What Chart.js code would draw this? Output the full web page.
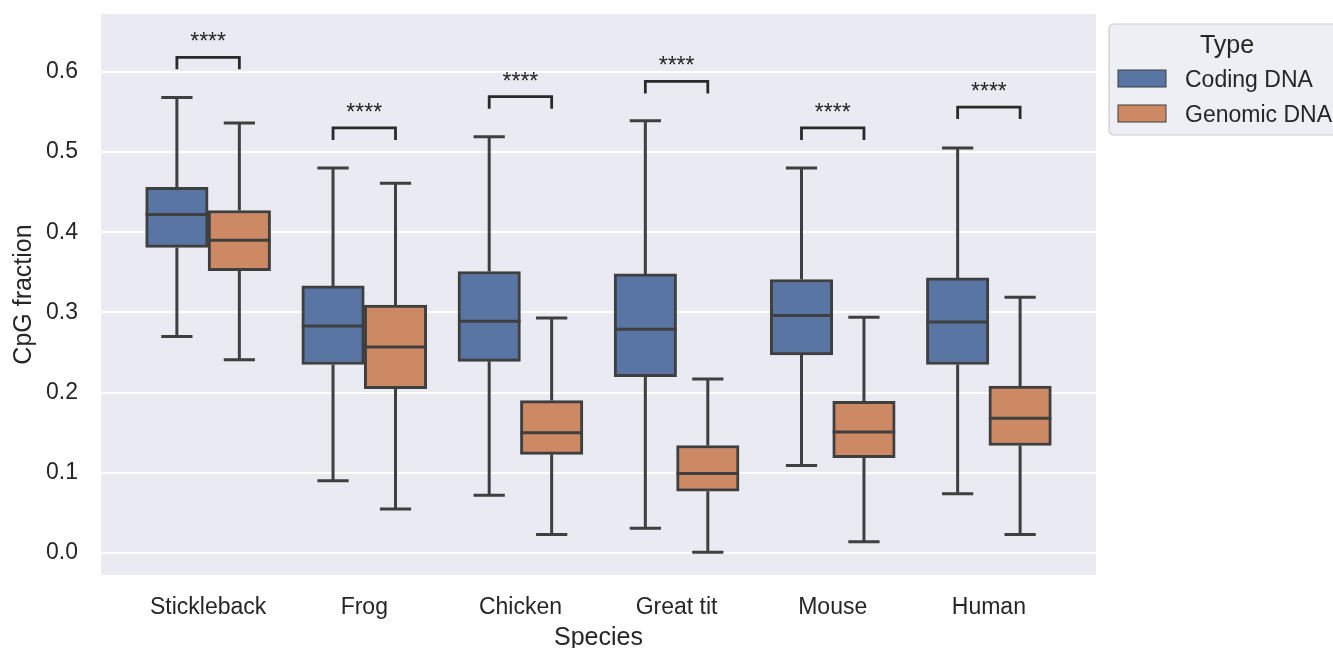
<!DOCTYPE html>
<html>
<head>
<meta charset="utf-8">
<title>CpG fraction by species</title>
<script src="https://cdn.jsdelivr.net/npm/chart.js@4.4.1/dist/chart.umd.min.js"></script>
<style>
    html, body { margin: 0; padding: 0; background: #ffffff; }
    #wrap { width: 1333px; height: 648px; }
</style>
</head>
<body>
<div id="wrap"><canvas id="cpgChart" width="1333" height="648"></canvas></div>
<script>
"use strict";

var species = ["Stickleback", "Frog", "Chicken", "Great tit", "Mouse", "Human"];
var seriesNames = ["Coding DNA", "Genomic DNA"];

// Coding DNA box stats
var codingMin = [0.270, 0.090, 0.072, 0.031, 0.109, 0.074];
var codingQ1 = [0.381, 0.235, 0.239, 0.220, 0.247, 0.235];
var codingMedian = [0.422, 0.283, 0.289, 0.279, 0.296, 0.288];
var codingQ3 = [0.456, 0.333, 0.351, 0.348, 0.341, 0.343];
var codingMax = [0.568, 0.480, 0.519, 0.539, 0.480, 0.505];

// Genomic DNA box stats
var genomicMin = [0.241, 0.055, 0.023, 0.001, 0.014, 0.023];
var genomicQ1 = [0.352, 0.205, 0.123, 0.077, 0.119, 0.134];
var genomicMedian = [0.390, 0.257, 0.150, 0.099, 0.151, 0.168];
var genomicQ3 = [0.427, 0.309, 0.190, 0.134, 0.189, 0.208];
var genomicMax = [0.536, 0.461, 0.293, 0.217, 0.294, 0.319];

// significance brackets
var sigLabels = ["****", "****", "****", "****", "****", "****"];
var bracketTop = [0.618, 0.530, 0.569, 0.588, 0.530, 0.556];
var bracketLeg = 0.015;

var yTicks = [0.0, 0.1, 0.2, 0.3, 0.4, 0.5, 0.6];

var fontFamily = "'Liberation Sans', Arial, sans-serif";
var textColor = "#262626";
var lineColor = "#3f3f3f";
var colors = ["#5875a4", "#cc8963"];
var groupOffset = 0.2;

var stats = [
    { min: codingMin, q1: codingQ1, med: codingMedian, q3: codingQ3, max: codingMax },
    { min: genomicMin, q1: genomicQ1, med: genomicMedian, q3: genomicQ3, max: genomicMax }
];

function boxData(s, shift) {
    var arr = [];
    for (var i = 0; i < species.length; i++) {
        arr.push({ x: i + shift, y: [s.q1[i], s.q3[i]] });
    }
    return arr;
}

/*background of the plot area*/
var plotBackground = {
    id: "plotBackground",
    beforeDraw: function (chart) {
        var a = chart.chartArea;
        var ctx = chart.ctx;
        ctx.save();
        ctx.fillStyle = "#eaeaf2";
        ctx.fillRect(a.left, a.top, a.right - a.left, a.bottom - a.top);
        ctx.restore();
    }
};

/*whiskers, caps and medians*/
var boxExtras = {
    id: "boxExtras",
    afterDatasetsDraw: function (chart) {
        var ctx = chart.ctx;
        var y = chart.scales.y;
        ctx.save();
        ctx.strokeStyle = lineColor;
        ctx.lineWidth = 3;
        ctx.lineCap = "butt";
        for (var d = 0; d < stats.length; d++) {
            var meta = chart.getDatasetMeta(d);
            var s = stats[d];
            for (var i = 0; i < meta.data.length; i++) {
                var el = meta.data[i];
                var cx = el.x;
                var w = el.width;
                var pMin = y.getPixelForValue(s.min[i]);
                var pQ1 = y.getPixelForValue(s.q1[i]);
                var pMed = y.getPixelForValue(s.med[i]);
                var pQ3 = y.getPixelForValue(s.q3[i]);
                var pMax = y.getPixelForValue(s.max[i]);
                ctx.beginPath();
                ctx.moveTo(cx, pQ3);
                ctx.lineTo(cx, pMax);
                ctx.moveTo(cx, pQ1);
                ctx.lineTo(cx, pMin);
                ctx.moveTo(cx - w / 4, pMax);
                ctx.lineTo(cx + w / 4, pMax);
                ctx.moveTo(cx - w / 4, pMin);
                ctx.lineTo(cx + w / 4, pMin);
                ctx.moveTo(cx - w / 2, pMed);
                ctx.lineTo(cx + w / 2, pMed);
                ctx.stroke();
            }
        }
        ctx.restore();
    }
};

/*significance brackets*/
var sigBrackets = {
    id: "sigBrackets",
    afterDatasetsDraw: function (chart) {
        var ctx = chart.ctx;
        var x = chart.scales.x;
        var y = chart.scales.y;
        ctx.save();
        ctx.strokeStyle = "#2a2a2a";
        ctx.lineWidth = 2.8;
        ctx.fillStyle = textColor;
        ctx.font = "23px " + fontFamily;
        ctx.textAlign = "center";
        ctx.textBaseline = "alphabetic";
        for (var i = 0; i < species.length; i++) {
            var x1 = x.getPixelForValue(i - groupOffset);
            var x2 = x.getPixelForValue(i + groupOffset);
            var top = y.getPixelForValue(bracketTop[i]);
            var foot = y.getPixelForValue(bracketTop[i] - bracketLeg);
            ctx.beginPath();
            ctx.moveTo(x1, foot);
            ctx.lineTo(x1, top);
            ctx.lineTo(x2, top);
            ctx.lineTo(x2, foot);
            ctx.stroke();
            ctx.fillText(sigLabels[i], (x1 + x2) / 2, top - 8);
        }
        ctx.restore();
    }
};

/*legend box outside the axes*/
var typeLegend = {
    id: "typeLegend",
    afterDraw: function (chart) {
        var ctx = chart.ctx;
        var left = chart.chartArea.right + 13;
        var top = 24;
        ctx.save();
        ctx.beginPath();
        ctx.roundRect(left, top, 260, 111, 5);
        ctx.fillStyle = "rgba(234, 234, 242, 0.8)";
        ctx.fill();
        ctx.strokeStyle = "#cccccc";
        ctx.lineWidth = 1.2;
        ctx.stroke();

        ctx.fillStyle = textColor;
        ctx.textBaseline = "alphabetic";
        ctx.textAlign = "center";
        ctx.font = "25px " + fontFamily;
        ctx.fillText("Type", left + 118, top + 29);

        ctx.textAlign = "left";
        ctx.font = "23px " + fontFamily;
        for (var i = 0; i < seriesNames.length; i++) {
            var py = top + 46 + i * 35;
            ctx.fillStyle = colors[i];
            ctx.fillRect(left + 9, py, 48, 17);
            ctx.strokeStyle = lineColor;
            ctx.lineWidth = 1;
            ctx.strokeRect(left + 9, py, 48, 17);
            ctx.fillStyle = textColor;
            ctx.fillText(seriesNames[i], left + 76, py + 16.5);
        }
        ctx.restore();
    }
};

var ctx1 = document.getElementById("cpgChart");
var data1 = {
    datasets: [{
        label: seriesNames[0],
        data: boxData(stats[0], -groupOffset),
        backgroundColor: colors[0],
        borderColor: lineColor,
        borderWidth: 3,
        borderSkipped: false
    }, {
        label: seriesNames[1],
        data: boxData(stats[1], groupOffset),
        backgroundColor: colors[1],
        borderColor: lineColor,
        borderWidth: 3,
        borderSkipped: false
    }]
};

var cpgChart = new Chart(ctx1, {
    type: "bar",
    data: data1,
    plugins: [plotBackground, boxExtras, sigBrackets, typeLegend],
    options: {
        responsive: false,
        animation: false,
        devicePixelRatio: 1,
        grouped: false,
        barPercentage: 1,
        categoryPercentage: 1,
        layout: {
            padding: { left: 0, top: 14, right: 237, bottom: 0 }
        },
        plugins: {
            legend: { display: false },
            tooltip: { enabled: false }
        },
        scales: {
            x: {
                type: "linear",
                offset: false,
                min: -0.686,
                max: 5.686,
                grid: { display: false, drawTicks: false },
                border: { display: false },
                afterFit: function (scale) {
                    scale.height = 73;
                    scale.paddingLeft = 0;
                    scale.paddingRight = 0;
                },
                afterBuildTicks: function (scale) {
                    scale.ticks = species.map(function (s, i) { return { value: i }; });
                },
                ticks: {
                    autoSkip: false,
                    maxRotation: 0,
                    padding: 19,
                    color: textColor,
                    font: { family: fontFamily, size: 23 },
                    callback: function (value) { return species[value]; }
                },
                title: {
                    display: true,
                    text: "Species",
                    color: textColor,
                    font: { family: fontFamily, size: 25, lineHeight: 0.76 },
                    padding: { top: 0, bottom: 0 }
                }
            },
            y: {
                min: -0.0274,
                max: 0.672,
                grid: { color: "#ffffff", lineWidth: 2, drawTicks: false },
                border: { display: false },
                afterFit: function (scale) {
                    scale.width = 101;
                    scale.paddingTop = 0;
                    scale.paddingBottom = 0;
                },
                afterBuildTicks: function (scale) {
                    scale.ticks = yTicks.map(function (v) { return { value: v }; });
                },
                ticks: {
                    padding: 23,
                    color: textColor,
                    font: { family: fontFamily, size: 23 },
                    callback: function (value) { return value.toFixed(1); }
                },
                title: {
                    display: true,
                    text: "CpG fraction",
                    color: textColor,
                    font: { family: fontFamily, size: 25, lineHeight: 1 },
                    padding: { top: 12, bottom: 0 }
                }
            }
        }
    }
});
</script>
</body>
</html>
